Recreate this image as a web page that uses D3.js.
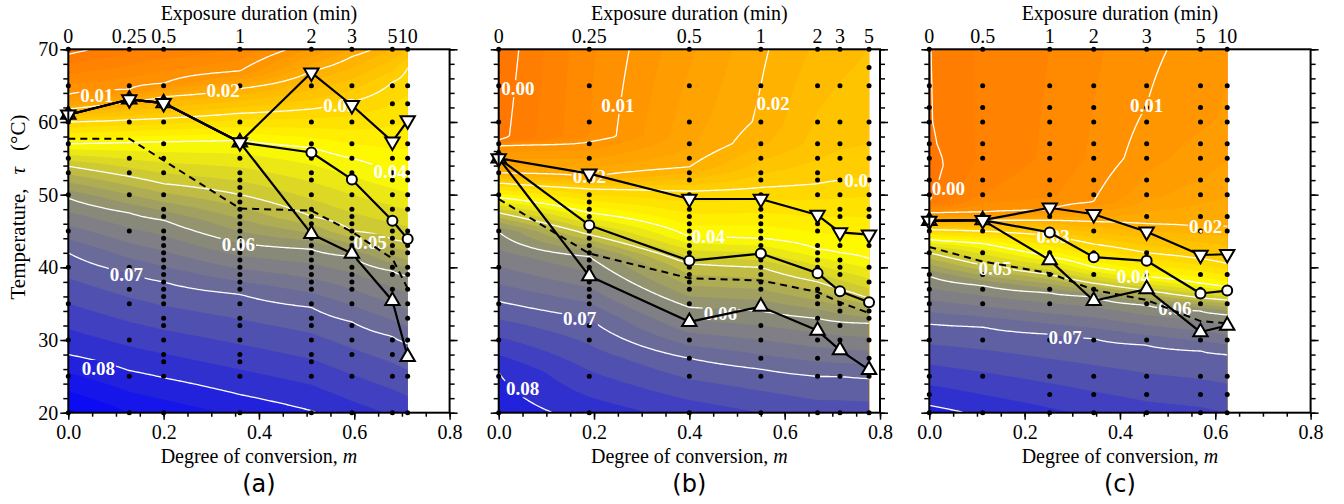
<!DOCTYPE html>
<html>
<head>
<meta charset="utf-8">
<script src="https://cdn.jsdelivr.net/npm/d3@7"></script>
<style>
  body { margin: 0; background: #fff; }
  svg text { font-family: "Liberation Serif", "Times New Roman", serif; }
</style>
</head>
<body>
<svg id="chart" width="1344" height="504"></svg>
<script>
// ---------------- data ----------------
// columns = degree of conversion m of each exposure step, times = top-axis labels
const colsA = [0, 0.128, 0.2, 0.36, 0.51, 0.595, 0.68, 0.712];
const timesA = ["0", "0.25", "0.5", "1", "2", "3", "5", "10"];
const downA = [61.0, 63.1, 62.6, 57.2, 66.8, 62.3, 57.3, 60.2];
const circA = [61.0, 63.1, 62.6, 57.2, 55.8, 52.1, 46.4, 43.9];
const upA   = [61.0, 63.1, 62.6, 57.2, 44.6, 41.9, 35.4, 27.7];
const dashA = [57.7, 57.7, 54.7, 48.1, 47.8, 44.9, 41.2, 37.1];

const colsB = [0, 0.19, 0.40, 0.55, 0.669, 0.716, 0.777];
const timesB = ["0", "0.25", "0.5", "1", "2", "3", "5"];
const downB = [55.0, 52.9, 49.4, 49.4, 47.2, 44.8, 44.5];
const circB = [55.0, 45.8, 40.9, 41.9, 39.2, 36.7, 35.2];
const upB   = [55.0, 38.8, 32.5, 34.6, 31.3, 28.6, 25.9];
const dashB = [49.4, 41.9, 38.5, 38.2, 36.6, 35.2, 33.7];

const colsC = [0, 0.112, 0.2526, 0.345, 0.456, 0.569, 0.625];
const timesC = ["0", "0.5", "1", "2", "3", "5", "10"];
const downC = [46.4, 46.5, 48.2, 47.3, 44.9, 41.7, 41.8];
const circC = [46.4, 46.5, 44.8, 41.4, 40.9, 36.4, 36.8];
const upC   = [46.4, 46.5, 41.0, 35.4, 37.0, 31.1, 32.0];
const dashC = [42.8, 40.8, 39.2, 36.9, 35.5, 32.6, 32.3];

// background field: per column, [temperature, value] knots (top to bottom)
const fieldA = [
  [[70, -0.001], [69.3, 0], [63.8, 0.01], [61.8, 0.02], [60, 0.03], [57, 0.04], [53.9, 0.05], [49.5, 0.06], [42, 0.07], [28, 0.08], [20, 0.088]],
  [[70, 0.0017], [64.5, 0.01], [62.8, 0.02], [60.3, 0.03], [57.2, 0.04], [52.5, 0.05], [47.5, 0.06], [39.2, 0.07], [25.8, 0.08], [20, 0.085]],
  [[70, 0.003], [65.3, 0.01], [63.5, 0.02], [60.5, 0.03], [57.3, 0.04], [51.5, 0.05], [46.5, 0.06], [38, 0.07], [24.8, 0.08], [20, 0.084]],
  [[70, 0.005], [67, 0.01], [64.6, 0.02], [61.2, 0.03], [57.5, 0.04], [50, 0.05], [43.3, 0.06], [36.3, 0.07], [22.5, 0.08], [20, 0.082]],
  [[70, 0.0125], [67, 0.02], [61.8, 0.03], [56.5, 0.04], [47, 0.05], [42.5, 0.06], [34.5, 0.07], [20, 0.0802]],
  [[70, 0.0175], [69, 0.02], [62.8, 0.03], [55, 0.04], [45, 0.05], [41.5, 0.06], [32.5, 0.07], [20, 0.0786]],
  [[70, 0.0225], [65.5, 0.03], [53.2, 0.04], [43.8, 0.05], [39.5, 0.06], [30.5, 0.07], [20, 0.0772]],
  [[70, 0.025], [67.5, 0.03], [52.5, 0.04], [43.3, 0.05], [38.8, 0.06], [29.5, 0.07], [20, 0.0766]]
];
const fieldB = [
  [[70, -0.002], [58, -0.001], [57.5, 0], [56.8, 0.01], [53, 0.02], [51.6, 0.03], [49.6, 0.04], [47.5, 0.05], [44.9, 0.06], [35.3, 0.07], [25.5, 0.08], [20, 0.0815]],
  [[70, 0.007], [58, 0.0075], [57.3, 0.01], [52.5, 0.02], [50.8, 0.03], [47.5, 0.04], [44.5, 0.05], [41.5, 0.06], [33, 0.07], [20, 0.079]],
  [[70, 0.0145], [57, 0.017], [53.8, 0.02], [50.5, 0.03], [44.2, 0.04], [40.5, 0.05], [34.5, 0.06], [27.5, 0.07], [20, 0.0765]],
  [[70, 0.0195], [60, 0.0205], [57, 0.022], [51, 0.03], [44, 0.04], [40, 0.05], [34, 0.06], [26, 0.07], [20, 0.075]],
  [[70, 0.023], [57, 0.026], [51.5, 0.03], [42.5, 0.04], [38, 0.05], [33, 0.06], [25, 0.07], [20, 0.0738]],
  [[70, 0.024], [57, 0.027], [52, 0.03], [42, 0.04], [37, 0.05], [32.5, 0.06], [25, 0.07], [20, 0.0738]],
  [[70, 0.025], [57, 0.0275], [52.5, 0.03], [41.2, 0.04], [35.7, 0.05], [32.3, 0.06], [24.7, 0.07], [20, 0.0737]]
];
const fieldC = [
  [[70, -0.0001], [60, -0.0002], [57, -0.0005], [54, -0.0012], [51, -0.0008], [49, 0], [47.5, 0.01], [46.3, 0.02], [45.2, 0.03], [43.8, 0.04], [42, 0.05], [38.8, 0.06], [32.2, 0.07], [21, 0.08], [20, 0.081]],
  [[70, 0.003], [55, 0.003], [50, 0.005], [47.6, 0.01], [46.5, 0.02], [45, 0.03], [43.3, 0.04], [40.3, 0.05], [37.5, 0.06], [31.8, 0.07], [20, 0.0795]],
  [[70, 0.005], [55, 0.0055], [50, 0.007], [47.9, 0.01], [46.5, 0.02], [44.4, 0.03], [41.5, 0.04], [39, 0.05], [36.5, 0.06], [30.8, 0.07], [20, 0.078]],
  [[70, 0.007], [55, 0.008], [49, 0.01], [46.3, 0.02], [43.2, 0.03], [40, 0.04], [37.8, 0.05], [36, 0.06], [30.2, 0.07], [20, 0.077]],
  [[70, 0.0095], [62.3, 0.01], [55, 0.0115], [50, 0.014], [46, 0.02], [42, 0.03], [38.7, 0.04], [36.8, 0.05], [34.8, 0.06], [29.3, 0.07], [20, 0.076]],
  [[70, 0.0108], [60, 0.012], [52, 0.015], [45.6, 0.02], [41.2, 0.03], [37.8, 0.04], [35.8, 0.05], [34, 0.06], [28.5, 0.07], [20, 0.0755]],
  [[70, 0.012], [60, 0.013], [52, 0.016], [45.6, 0.02], [40.5, 0.03], [37.3, 0.04], [35.5, 0.05], [33.5, 0.06], [28, 0.07], [20, 0.075]]
];

// measurement points (temperatures) in each column
const dotsA = [
  [70, 65, 60, 57, 55, 53, 50, 45, 40, 35, 30, 25, 20],
  [70, 65, 60, 55, 53, 50, 45, 40, 37, 35, 30, 25, 20],
  [70, 65, 60, 57, 55, 53, 50, 48, 47, 45, 44, 43, 42, 41, 40, 39, 38, 37, 36, 35, 33, 32, 30, 28, 27, 25, 20],
  [70, 65, 60, 57, 55, 53, 52, 51, 50, 49, 48, 47, 46, 45, 44, 43, 42, 41, 40, 39, 38, 37, 35, 33, 32, 30, 28, 27, 25, 20],
  [70, 65, 60, 57, 55, 53, 52, 50, 48, 47, 46, 45, 44, 43, 42, 41, 40, 39, 38, 37, 35, 33, 32, 30, 28, 27, 25, 20],
  [70, 65, 60, 57, 55, 53, 50, 48, 47, 46, 45, 44, 43, 42, 40, 39, 38, 37, 35, 32, 30, 28, 25, 20],
  [70, 65, 62.5, 60, 57, 55, 53, 52, 50, 48, 46, 45, 44, 43, 42, 40, 39, 37, 35, 30, 28, 25, 20],
  [70, 65, 62.5, 60, 57, 55, 53, 52, 50, 48, 45, 43, 42, 40, 39, 37, 35, 33, 30, 25, 20]
];
const dotsB = [
  [70, 65, 60, 57, 55, 53, 50, 45, 40, 35, 30, 25, 20],
  [70, 65, 60, 57, 55, 53, 52, 50, 49, 48, 47, 46, 45, 44, 43, 42, 41, 40, 39, 38, 37, 36, 35, 32, 30, 25, 20],
  [70, 65, 60, 57, 55, 53, 52, 50, 49, 48, 47, 46, 45, 44, 43, 42, 41, 40, 39, 38, 37, 35, 32.5, 30, 27.5, 25, 20],
  [70, 65, 60, 57, 55, 53, 52, 50, 48, 47, 46, 45, 44, 43, 42, 41, 40, 39, 38, 37, 35, 32, 30, 27.5, 25, 20],
  [70, 65, 60, 57, 55, 53, 52, 50, 47, 46, 45, 43, 42, 41, 40, 39, 37, 36, 35, 33, 31, 30, 27.5, 25, 20],
  [70, 65, 60, 57, 55, 52, 50, 48, 47, 45, 43, 41, 40, 39, 37, 35, 34, 32, 30, 28.5, 25, 20],
  [70, 67.5, 65, 60, 57, 55, 52, 50, 48, 47, 44.5, 43, 40, 38, 35, 34, 33, 30, 27.5, 25, 20]
];
const dotsC = [
  [70, 65, 62, 60, 57, 55, 52, 50, 47, 45, 42, 39, 37, 35, 30, 25, 22.5, 20],
  [70, 65, 62, 60, 57, 55, 52, 50, 47, 45, 42, 39, 37, 35, 30, 25, 20],
  [70, 65, 62, 60, 57, 55, 52, 50, 47, 45, 42, 39, 37, 35, 30, 25, 22.5, 20],
  [70, 65, 62, 60, 57, 55, 52, 50, 47, 45, 42, 39, 37, 35, 30, 25, 22.5, 20],
  [70, 65, 62, 60, 57, 55, 52, 50, 47, 45, 42, 39, 37, 35, 30, 25, 22.5, 20],
  [70, 65, 62, 60, 57, 55, 52, 50, 47, 45, 42, 39, 37, 35, 30, 25, 22.5, 20],
  [70, 65, 62, 60, 57, 55, 52, 50, 47, 45, 42, 39, 37, 35, 30, 25, 22.5, 20]
];

// contour labels: text, m, temperature
const labelsA = [["0.01", 0.06, 63.6], ["0.02", 0.325, 64.4], ["0.03", 0.57, 62.3], ["0.04", 0.675, 53.2],
                 ["0.05", 0.633, 43.5], ["0.06", 0.357, 43.2], ["0.07", 0.122, 39.0], ["0.08", 0.063, 26.1]];
const labelsB = [["0.00", 0.04, 64.6], ["0.01", 0.25, 62.3], ["0.02", 0.576, 62.5], ["0.02", 0.19, 52.5],
                 ["0.03", 0.76, 52.0], ["0.04", 0.44, 44.2], ["0.06", 0.465, 33.7], ["0.07", 0.17, 33.0], ["0.08", 0.05, 23.3]];
const labelsC = [["0.00", 0.04, 50.9], ["0.01", 0.456, 62.3], ["0.02", 0.58, 45.6], ["0.03", 0.26, 44.3],
                 ["0.04", 0.428, 38.7], ["0.05", 0.138, 39.8], ["0.06", 0.515, 34.3], ["0.07", 0.285, 30.4]];

// colour map of the filled field
const colorStops = [-0.005, 0, 0.01, 0.02, 0.03, 0.04, 0.045, 0.05, 0.055, 0.06, 0.065, 0.07, 0.075, 0.08, 0.085, 0.09];
const colorList = ["#ff6a00", "#ff7a00", "#ff9300", "#ffad00", "#ffd200", "#ffff00", "#e4e01c", "#c6c23c",
                   "#a8a65a", "#8e8e74", "#7a7a8a", "#66669e", "#4848b8", "#2828d6", "#1010f0", "#0000ff"];
const lineLevels = [0, 0.01, 0.02, 0.03, 0.04, 0.05, 0.06, 0.07, 0.08];

// ---------------- layout ----------------
const panels = [
  { key: "a", x0: 68.3, cols: colsA, times: timesA, field: fieldA, dots: dotsA, labels: labelsA, down: downA, circ: circA, up: upA, dash: dashA },
  { key: "b", x0: 498.7, cols: colsB, times: timesB, field: fieldB, dots: dotsB, labels: labelsB, down: downB, circ: circB, up: upB, dash: dashB },
  { key: "c", x0: 929.3, cols: colsC, times: timesC, field: fieldC, dots: dotsC, labels: labelsC, down: downC, circ: circC, up: upC, dash: dashC }
];
const plotW = 381.3;
const yTop = 49.3, yBot = 412.7;

const color = d3.scaleLinear().domain(colorStops).range(colorList).clamp(true);

const svg = d3.select("#chart");
const defs = svg.append("defs");

function profileValue(knots, T) {
  if (T >= knots[0][0]) return knots[0][1];
  for (let i = 0; i < knots.length - 1; i++) {
    const [t0, v0] = knots[i], [t1, v1] = knots[i + 1];
    if (T <= t0 && T >= t1) return v0 + (v1 - v0) * (t0 - T) / (t0 - t1);
  }
  return knots[knots.length - 1][1];
}

function fieldValue(p, m, T) {
  const c = p.cols;
  if (m <= c[0]) return profileValue(p.field[0], T);
  if (m >= c[c.length - 1]) return profileValue(p.field[c.length - 1], T);
  const i = d3.bisectRight(c, m) - 1;
  const f = (m - c[i]) / (c[i + 1] - c[i]);
  return profileValue(p.field[i], T) * (1 - f) + profileValue(p.field[i + 1], T) * f;
}

panels.forEach(drawPanel);

function drawPanel(p, pi) {
  const x = d3.scaleLinear().domain([0, 0.8]).range([p.x0, p.x0 + plotW]);
  const y = d3.scaleLinear().domain([20, 70]).range([yBot, yTop]);
  const mMax = p.cols[p.cols.length - 1];
  const g = svg.append("g");

  // clip to the measured area
  defs.append("clipPath").attr("id", "clip" + p.key)
    .append("rect")
    .attr("x", x(0)).attr("y", yTop)
    .attr("width", x(mMax) - x(0)).attr("height", yBot - yTop);

  // sample the field on a fine grid (slightly padded, then clipped)
  const nx = 160, ny = 240;
  const gm0 = -0.01, gm1 = mMax + 0.01, gt0 = 70.5, gt1 = 19.5;
  const values = new Float64Array(nx * ny);
  for (let j = 0; j < ny; j++) {
    const T = gt0 + (gt1 - gt0) * j / (ny - 1);
    for (let i = 0; i < nx; i++) {
      const m = gm0 + (gm1 - gm0) * i / (nx - 1);
      values[j * nx + i] = fieldValue(p, m, T);
    }
  }
  const proj = d3.geoTransform({
    point: function (gx, gy) {
      const m = gm0 + (gm1 - gm0) * (gx - 0.5) / (nx - 1);
      const T = gt0 + (gt1 - gt0) * (gy - 0.5) / (ny - 1);
      this.stream.point(x(m), y(T));
    }
  });
  const path = d3.geoPath(proj);

  const bandTh = [-1].concat(d3.range(-0.005, 0.0925, 0.0025));
  const bands = d3.contours().size([nx, ny]).thresholds(bandTh)(values);

  const fillG = g.append("g").attr("clip-path", `url(#clip${p.key})`);
  fillG.selectAll("path")
    .data(bands)
    .enter()
    .append("path")
    .attr("d", path)
    .attr("fill", d => d.value < -0.5 ? color(-0.005) : color(d.value + 0.00125))
    .attr("stroke", "none");

  // contour lines, with gaps where the labels sit
  const mask = defs.append("mask").attr("id", "mask" + p.key)
    .attr("maskUnits", "userSpaceOnUse")
    .attr("x", 0).attr("y", 0).attr("width", 1344).attr("height", 504);
  mask.append("rect").attr("x", 0).attr("y", 0).attr("width", 1344).attr("height", 504).attr("fill", "#fff");

  const lines = d3.contours().size([nx, ny]).thresholds(lineLevels)(values);
  fillG.append("g")
    .attr("mask", `url(#mask${p.key})`)
    .selectAll("path")
    .data(lines)
    .enter()
    .append("path")
    .attr("d", path)
    .attr("fill", "none")
    .attr("stroke", "#fff")
    .attr("stroke-width", 1.3);

  // measurement points
  const dotData = [];
  p.cols.forEach((m, i) => p.dots[i].forEach(t => dotData.push([m, t])));
  g.append("g").selectAll("circle")
    .data(dotData)
    .enter()
    .append("circle")
    .attr("cx", d => x(d[0]))
    .attr("cy", d => y(d[1]))
    .attr("r", 2.5)
    .attr("fill", "#000");

  // contour labels
  const lblG = g.append("g").attr("clip-path", `url(#clip${p.key})`);
  lblG.selectAll("text")
    .data(p.labels)
    .enter()
    .append("text")
    .attr("x", d => x(d[1]))
    .attr("y", d => y(d[2]))
    .attr("text-anchor", "middle")
    .attr("dy", "0.35em")
    .style("font-size", "19px")
    .style("font-weight", "bold")
    .attr("fill", "#fff")
    .text(d => d[0])
    .each(function () {
      const b = this.getBBox();
      mask.append("rect")
        .attr("x", b.x - 1).attr("y", b.y + 2)
        .attr("width", b.width + 2).attr("height", b.height - 4)
        .attr("fill", "#000");
    });

  // series lines
  const line = d3.line().x((d, i) => x(p.cols[i])).y(d => y(d));
  g.append("path")
    .attr("d", line(p.dash))
    .attr("fill", "none")
    .attr("stroke", "#000")
    .attr("stroke-width", 2)
    .attr("stroke-dasharray", "7,5");
  [p.up, p.circ, p.down].forEach(s => {
    g.append("path")
      .attr("d", line(s))
      .attr("fill", "none")
      .attr("stroke", "#000")
      .attr("stroke-width", 2.2)
      .attr("stroke-linejoin", "round");
  });

  // markers
  const tri = d3.symbol().type(d3.symbolTriangle).size(90);
  g.append("g").selectAll("path")
    .data(p.up)
    .enter()
    .append("path")
    .attr("d", tri)
    .attr("transform", (d, i) => `translate(${x(p.cols[i])},${y(d)})`)
    .attr("fill", "#fff").attr("stroke", "#000").attr("stroke-width", 2);
  g.append("g").selectAll("circle")
    .data(p.circ)
    .enter()
    .append("circle")
    .attr("cx", (d, i) => x(p.cols[i]))
    .attr("cy", d => y(d))
    .attr("r", 5)
    .attr("fill", "#fff").attr("stroke", "#000").attr("stroke-width", 2);
  g.append("g").selectAll("path")
    .data(p.down)
    .enter()
    .append("path")
    .attr("d", tri)
    .attr("transform", (d, i) => `translate(${x(p.cols[i])},${y(d)}) rotate(180)`)
    .attr("fill", "#fff").attr("stroke", "#000").attr("stroke-width", 2);

  // frame
  g.append("rect")
    .attr("x", x(0)).attr("y", yTop)
    .attr("width", plotW).attr("height", yBot - yTop)
    .attr("fill", "none").attr("stroke", "#000").attr("stroke-width", 2);

  // axes
  const styleAxis = sel => {
    sel.select(".domain").remove();
    sel.selectAll("line").attr("stroke", "#000").attr("stroke-width", 1.5);
    sel.selectAll("text").style("font-family", "'Liberation Serif', serif").style("font-size", "20px").attr("fill", "#000");
  };
  g.append("g").attr("transform", `translate(${x(0)},0)`)
    .call(d3.axisLeft(y).tickValues(d3.range(20, 71, 2)).tickSize(5).tickFormat(""))
    .call(styleAxis);
  g.append("g").attr("transform", `translate(${x(0)},0)`)
    .call(d3.axisLeft(y).tickValues(d3.range(20, 71, 10)).tickSize(8).tickPadding(2)
      .tickFormat(pi === 0 ? d3.format("d") : ""))
    .call(styleAxis);
  g.append("g").attr("transform", `translate(${x(0.8)},0)`)
    .call(d3.axisRight(y).tickValues(d3.range(20, 71, 2)).tickSize(5).tickFormat(""))
    .call(styleAxis);
  g.append("g").attr("transform", `translate(${x(0.8)},0)`)
    .call(d3.axisRight(y).tickValues(d3.range(20, 71, 10)).tickSize(8).tickFormat(""))
    .call(styleAxis);
  g.append("g").attr("transform", `translate(0,${yBot})`)
    .call(d3.axisBottom(x).tickValues(d3.range(0, 0.81, 0.05)).tickSize(4).tickFormat(""))
    .call(styleAxis);
  g.append("g").attr("transform", `translate(0,${yBot})`)
    .call(d3.axisBottom(x).tickValues([0, 0.2, 0.4, 0.6, 0.8]).tickSize(7).tickPadding(5).tickFormat(d3.format(".1f")))
    .call(styleAxis);

  // top axis: exposure duration
  g.append("g").selectAll("text")
    .data(p.times)
    .enter()
    .append("text")
    .attr("x", (d, i) => x(p.cols[i]))
    .attr("y", 43)
    .attr("text-anchor", "middle")
    .style("font-size", "20px")
    .text(d => d);
  g.append("text")
    .attr("x", x(0.4))
    .attr("y", 20)
    .attr("text-anchor", "middle")
    .style("font-size", "20px")
    .text("Exposure duration (min)");

  const xt = g.append("text")
    .attr("x", x(0.4))
    .attr("y", 463)
    .attr("text-anchor", "middle")
    .style("font-size", "20px");
  xt.append("tspan").text("Degree of conversion, ");
  xt.append("tspan").style("font-style", "italic").text("m");

  g.append("text")
    .attr("x", x(0.4))
    .attr("y", 492)
    .attr("text-anchor", "middle")
    .style("font-family", "'DejaVu Sans', sans-serif")
    .style("font-size", "24px")
    .text(`(${p.key})`);
}

// y axis title
const yt = svg.append("text")
  .attr("transform", "translate(25,207) rotate(-90)")
  .attr("text-anchor", "middle")
  .style("font-size", "21px");
yt.append("tspan").text("Temperature,");
yt.append("tspan").attr("dx", 14).style("font-style", "italic").text("τ");
yt.append("tspan").attr("dx", 16).text("(°C)");
</script>
</body>
</html>
